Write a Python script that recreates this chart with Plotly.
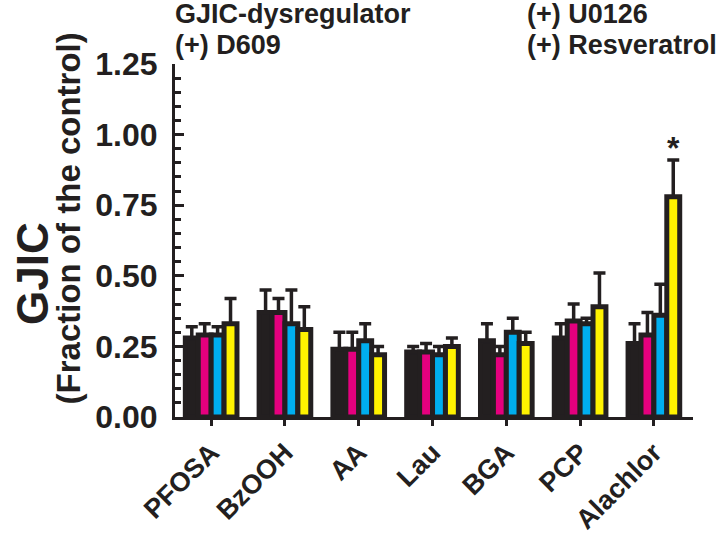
import plotly.graph_objects as go

categories = ["PFOSA", "BzOOH", "AA", "Lau", "BGA", "PCP", "Alachlor"]
series_names = ["GJIC-dysregulator", "(+) D609", "(+) U0126", "(+) Resveratrol"]
colors = ["#231f20", "#e5007e", "#00aeef", "#fff200"]

dysregulator = [0.28, 0.37, 0.24, 0.23, 0.27, 0.28, 0.26]
d609 = [0.29, 0.37, 0.24, 0.23, 0.22, 0.34, 0.29]
u0126 = [0.29, 0.33, 0.27, 0.22, 0.30, 0.33, 0.36]
resveratrol = [0.33, 0.31, 0.22, 0.25, 0.26, 0.39, 0.78]

err_dysregulator = [0.04, 0.08, 0.06, 0.02, 0.06, 0.05, 0.07]
err_d609 = [0.04, 0.05, 0.06, 0.03, 0.03, 0.06, 0.08]
err_u0126 = [0.03, 0.12, 0.06, 0.03, 0.05, 0.02, 0.11]
err_resveratrol = [0.09, 0.08, 0.03, 0.03, 0.04, 0.12, 0.13]

values = [dysregulator, d609, u0126, resveratrol]
errors = [err_dysregulator, err_d609, err_u0126, err_resveratrol]

ytick_vals = [0, 0.25, 0.5, 0.75, 1.0, 1.25]
ytick_text = ["0.00", "0.25", "0.50", "0.75", "1.00", "1.25"]

FONT = "Liberation Sans, Arial, sans-serif"
DARK = "#231f20"
BARGAP = 0.3

fig = go.Figure()
for name, vals, errs, col in zip(series_names, values, errors, colors):
    fig.add_trace(go.Bar(
        x=categories, y=vals, name=name,
        marker=dict(color=col, line=dict(color=DARK, width=5)),
        error_y=dict(type="data", array=errs, arrayminus=[0] * len(errs),
                     symmetric=False, color=DARK, thickness=3.5, width=6),
    ))

# significance marker above Alachlor + Resveratrol
idx = categories.index("Alachlor")
offset = (1 - BARGAP) * 3 / 8
fig.add_annotation(x=idx + offset, y=resveratrol[idx] + err_resveratrol[idx],
                   xref="x", yref="y", text="<b>*</b>", showarrow=False,
                   xanchor="center", yanchor="bottom", yshift=-8,
                   font=dict(family=FONT, size=32, color=DARK))

legend_font = dict(family=FONT, size=27, color=DARK)
for txt, px, py in [(series_names[0], -0.004, 1.141), (series_names[1], -0.004, 1.055),
                    (series_names[2], 0.6757, 1.141), (series_names[3], 0.6757, 1.055)]:
    fig.add_annotation(x=px, y=py, xref="paper", yref="paper", xanchor="left", yanchor="middle",
                       text="<b>%s</b>" % txt, showarrow=False, font=legend_font)

fig.add_annotation(x=-0.275, y=0.407, xref="paper", yref="paper", textangle=-90,
                   xanchor="center", yanchor="middle",
                   text="<b>GJIC</b>", showarrow=False,
                   font=dict(family=FONT, size=44, color=DARK))
fig.add_annotation(x=-0.205, y=0.562, xref="paper", yref="paper", textangle=-90,
                   xanchor="center", yanchor="middle",
                   text="<b>(Fraction of the control)</b>", showarrow=False,
                   font=dict(family=FONT, size=33, color=DARK))

fig.update_layout(
    width=718, height=547,
    margin=dict(l=175, r=25, t=64, b=122),
    barmode="group", bargap=BARGAP, bargroupgap=0,
    plot_bgcolor="white", paper_bgcolor="white",
    showlegend=False,
    font=dict(family=FONT, color=DARK),
)
fig.update_xaxes(
    range=[-0.49, 6.53], showline=True, linecolor=DARK, linewidth=3,
    ticks="outside", ticklen=6, tickwidth=2.5, tickcolor=DARK,
    tickangle=-45, tickfont=dict(family=FONT, size=27, color=DARK),
    showgrid=False, zeroline=False,
    tickvals=categories, ticktext=["<b>%s</b>" % c for c in categories],
)
fig.update_yaxes(
    range=[0, 1.25], showline=True, linecolor=DARK, linewidth=3,
    ticks="inside", ticklen=9, tickwidth=2.5, tickcolor=DARK,
    tickvals=ytick_vals, ticktext=["<b>%s</b>" % t for t in ytick_text],
    tickfont=dict(family=FONT, size=32, color=DARK), ticklabelstandoff=8,
    minor=dict(dtick=0.05, ticks="inside", ticklen=6, tickwidth=2.5, tickcolor=DARK),
    showgrid=False, zeroline=False,
)

fig.write_html("out.html", config={"displayModeBar": False},
               post_script="document.body.style.margin='0';")
